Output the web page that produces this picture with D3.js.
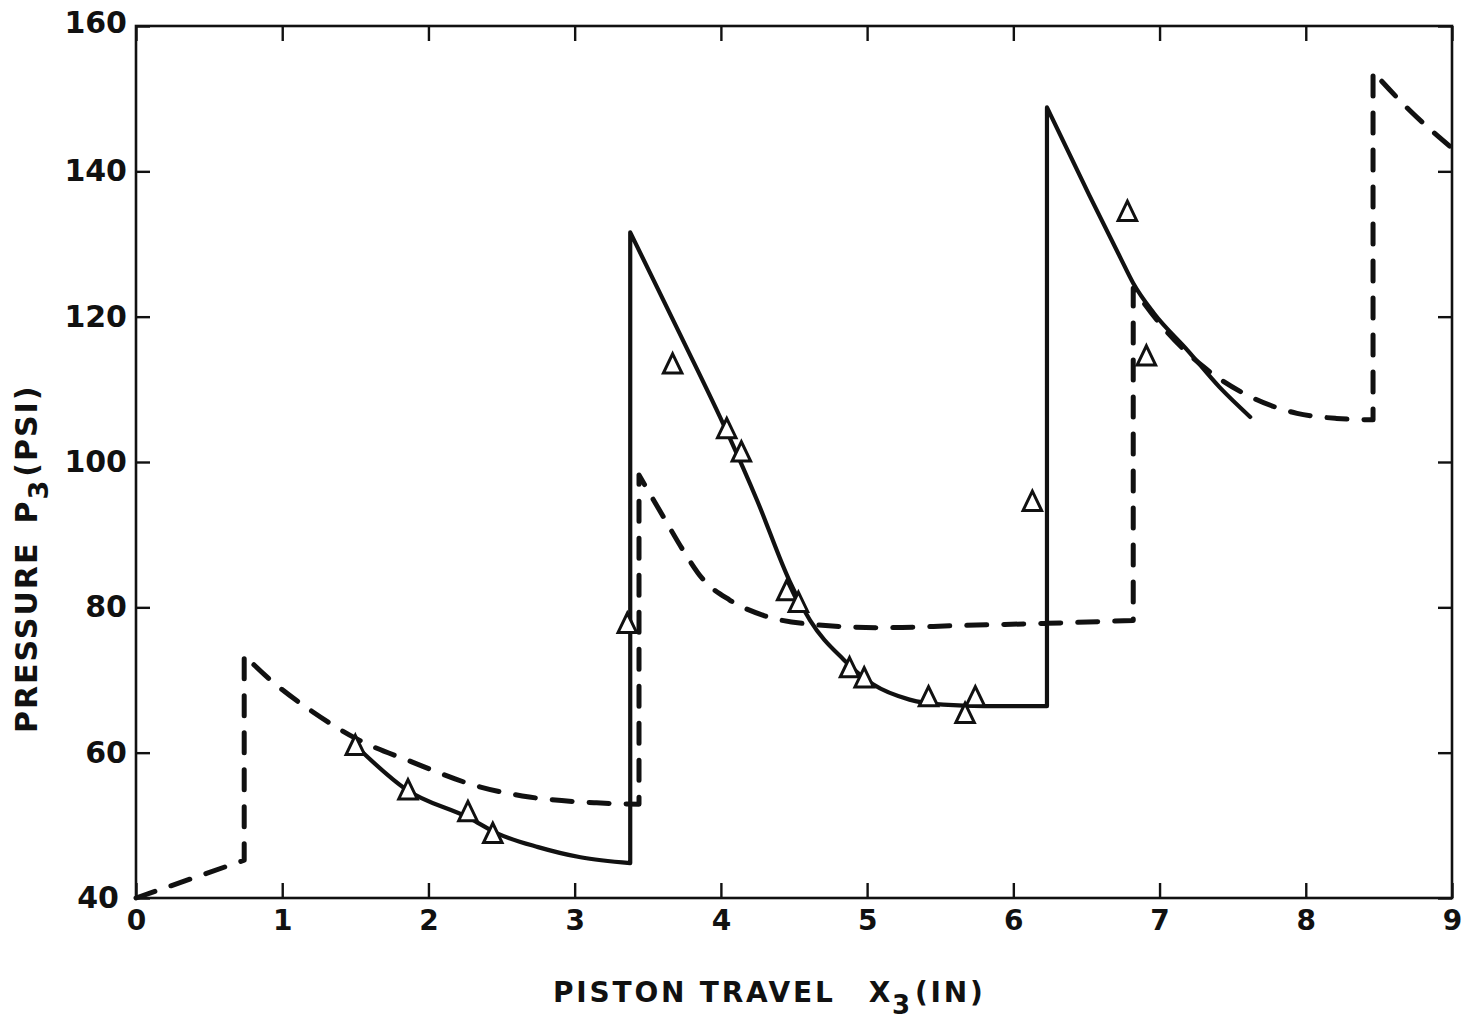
<!DOCTYPE html>
<html>
<head>
<meta charset="utf-8">
<script src="https://cdn.jsdelivr.net/npm/d3@7"></script>
<style>
  html, body { margin: 0; padding: 0; background: #fff; }
  svg { display: block; }
  text { font-family: "DejaVu Sans", "Liberation Sans", Arial, sans-serif; font-weight: bold; fill: #111; }
</style>
</head>
<body>
<svg id="chart" width="1464" height="1021"></svg>
<script>
// ---- data ----
const xTicks = [0, 1, 2, 3, 4, 5, 6, 7, 8, 9];
const yTicks = [40, 60, 80, 100, 120, 140, 160];

// dashed curve (model prediction); repeated x = vertical jump
const dashedCurve = [
  [0.00, 40.0], [0.74, 45.2],
  [0.74, 73.4], [0.92, 70.0], [1.21, 65.6], [1.50, 62.0],
  [1.89, 58.7], [2.35, 55.3], [2.69, 53.9], [3.15, 53.1], [3.44, 52.9],
  [3.44, 98.2], [3.62, 92.0], [3.74, 87.9], [3.88, 83.8], [4.06, 81.0], [4.29, 78.9],
  [4.60, 77.7], [5.11, 77.2], [5.64, 77.5], [6.23, 77.8], [6.82, 78.2],
  [6.82, 123.9], [7.02, 118.6], [7.30, 113.1], [7.64, 108.8], [7.94, 106.7],
  [8.21, 106.0], [8.46, 105.8],
  [8.46, 153.7], [8.71, 148.4], [9.00, 143.2]
];

// solid curve (model prediction); repeated x = vertical jump
const solidCurve = [
  [1.52, 60.6], [1.85, 54.9], [2.28, 51.0], [2.47, 48.9], [2.75, 47.0], [3.04, 45.6], [3.38, 44.8],
  [3.38, 131.6], [3.72, 117.6], [4.04, 104.2], [4.25, 94.6], [4.47, 83.6], [4.61, 78.2],
  [4.84, 72.8], [5.04, 69.4], [5.29, 67.3], [5.52, 66.6], [5.80, 66.4], [6.23, 66.4],
  [6.23, 148.8], [6.52, 136.7], [6.73, 128.2], [6.82, 124.6], [6.96, 120.5], [7.19, 115.4],
  [7.41, 110.3], [7.62, 106.2]
];

// measured points (triangles)
const measured = [
  [1.50, 60.8], [1.86, 54.7], [2.27, 51.7], [2.44, 48.7], [3.36, 77.6], [3.67, 113.3],
  [4.04, 104.4], [4.14, 101.2], [4.45, 82.1], [4.53, 80.5], [4.88, 71.5], [4.98, 70.1],
  [5.42, 67.5], [5.67, 65.2], [5.74, 67.5], [6.13, 94.4], [6.78, 134.3], [6.91, 114.4]
];

// ---- layout ----
const svg = d3.select("#chart");
const mLeft = 136, mRight = 1452, mTop = 26, mBottom = 898;

const x = d3.scaleLinear().domain([0, 9]).range([mLeft, mRight]);
const y = d3.scaleLinear().domain([40, 160]).range([mBottom, mTop]);

// axes with inward ticks on all four sides
const gB = svg.append("g").attr("transform", `translate(0,${mBottom})`)
  .call(d3.axisBottom(x).tickValues(xTicks).tickSize(-15).tickSizeOuter(0).tickPadding(12).tickFormat(d3.format("d")));
const gT = svg.append("g").attr("transform", `translate(0,${mTop})`)
  .call(d3.axisTop(x).tickValues(xTicks).tickSize(-15).tickSizeOuter(0).tickFormat(""));
const gL = svg.append("g").attr("transform", `translate(${mLeft},0)`)
  .call(d3.axisLeft(y).tickValues(yTicks).tickSize(-14).tickSizeOuter(0).tickPadding(9).tickFormat(d3.format("d")));
const gR = svg.append("g").attr("transform", `translate(${mRight},0)`)
  .call(d3.axisRight(y).tickValues(yTicks).tickSize(-14).tickSizeOuter(0).tickFormat(""));

[gB, gT, gL, gR].forEach(g => {
  g.select(".domain").remove();
  g.selectAll(".tick line").attr("stroke", "#111").attr("stroke-width", 2.4);
});
gB.selectAll(".tick text").attr("font-size", 28).attr("fill", "#111")
  .style("font-family", "'DejaVu Sans', sans-serif");
gL.selectAll(".tick text").attr("font-size", 30).attr("fill", "#111")
  .style("font-family", "'DejaVu Sans', sans-serif");
gL.selectAll(".tick").filter(d => d === 40).select("text").attr("dx", -8);
gL.selectAll(".tick").filter(d => d === 160).select("text").attr("dy", "0.22em");

// frame
svg.append("rect")
  .attr("x", mLeft).attr("y", mTop)
  .attr("width", mRight - mLeft).attr("height", mBottom - mTop)
  .attr("fill", "none").attr("stroke", "#111").attr("stroke-width", 2.6);

// curves: split at vertical jumps, smooth each run, join with vertical segments
const smooth = d3.line().x(d => x(d[0])).y(d => y(d[1])).curve(d3.curveMonotoneX);
function jumpPath(points) {
  const runs = [];
  let cur = [points[0]];
  for (let i = 1; i < points.length; i++) {
    if (points[i][0] === points[i - 1][0]) { runs.push(cur); cur = [points[i]]; }
    else cur.push(points[i]);
  }
  runs.push(cur);
  return runs.map((r, i) => {
    const s = smooth(r);
    return i === 0 ? s : s.replace(/^M/, "L");
  }).join("");
}

svg.append("path")
  .attr("d", jumpPath(dashedCurve))
  .attr("fill", "none").attr("stroke", "#111")
  .attr("stroke-width", 5).attr("stroke-dasharray", "20,17")
  .attr("stroke-linecap", "round").attr("stroke-linejoin", "round");

svg.append("path")
  .attr("d", jumpPath(solidCurve))
  .attr("fill", "none").attr("stroke", "#111")
  .attr("stroke-width", 4.2).attr("stroke-linejoin", "round").attr("stroke-linecap", "round");

// measured triangles (open, slightly taller than equilateral)
const triSymbol = {
  draw(ctx, size) {
    const w = size / 2, h = size * 1.04;
    ctx.moveTo(0, -h * 0.6);
    ctx.lineTo(w, h * 0.4);
    ctx.lineTo(-w, h * 0.4);
    ctx.closePath();
  }
};
svg.append("g").selectAll("path").data(measured).join("path")
  .attr("transform", d => `translate(${x(d[0])},${y(d[1])})`)
  .attr("d", d3.symbol(triSymbol, 18.5))
  .attr("fill", "#fff").attr("stroke", "#111").attr("stroke-width", 3)
  .attr("stroke-linejoin", "miter");

// axis titles
const xt = svg.append("text")
  .attr("x", 553).attr("y", 1002)
  .attr("font-size", 28).attr("letter-spacing", 2.8);
xt.append("tspan").text("PISTON TRAVEL");
xt.append("tspan").attr("dx", 33).text("X");
xt.append("tspan").attr("dy", 12).attr("dx", -1).attr("font-size", 26).text("3");
xt.append("tspan").attr("dy", -12).attr("dx", 2).text("(IN)");

const yt = svg.append("text")
  .attr("transform", "translate(37,733) rotate(-90)")
  .attr("x", 0).attr("y", 0)
  .attr("font-size", 30).attr("letter-spacing", 2);
yt.append("tspan").text("PRESSURE");
yt.append("tspan").attr("dx", 18).text("P");
yt.append("tspan").attr("dy", 11).attr("dx", 0).attr("font-size", 27).text("3");
yt.append("tspan").attr("dy", -11).attr("dx", 2).text("(PSI)");
</script>
</body>
</html>
